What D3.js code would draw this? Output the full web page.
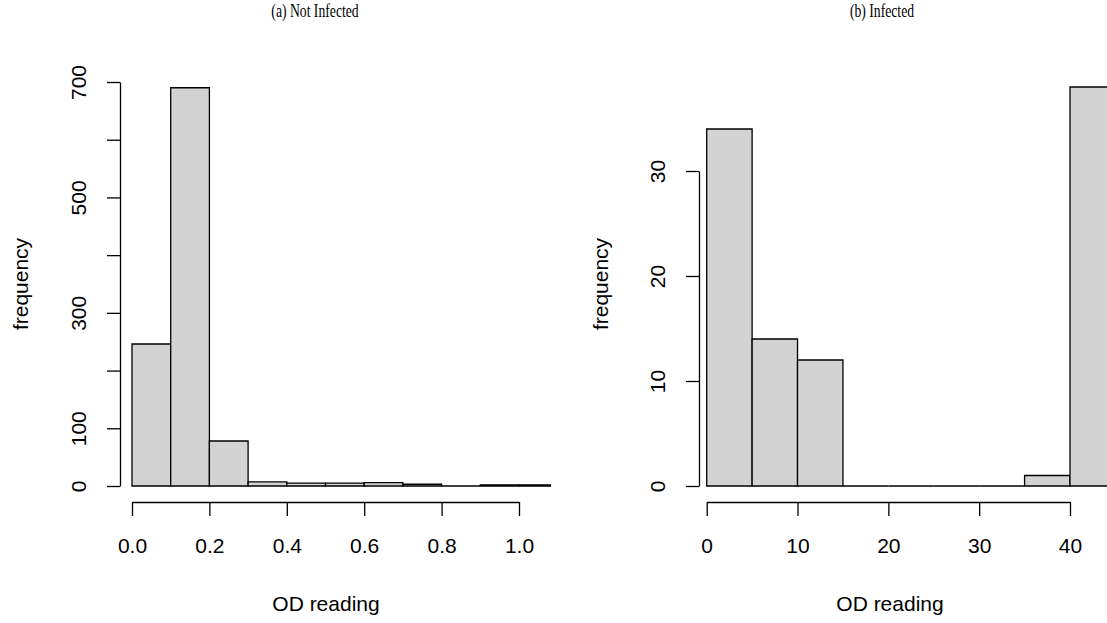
<!DOCTYPE html>
<html>
<head>
<meta charset="utf-8">
<script src="https://cdn.jsdelivr.net/npm/d3@7"></script>
<style>
  body { margin: 0; background: #fff; }
  .axis path, .axis line { stroke: #000; stroke-width: 1.3; }
  .axis text { font-family: "Liberation Sans", Arial, sans-serif; font-size: 21px; fill: #000; }
  .axis-title { font-family: "Liberation Sans", Arial, sans-serif; font-size: 21px; fill: #000; }
  .panel-title { font-family: "Liberation Serif", serif; font-size: 19px; fill: #000; }
  .bar { fill: #d3d3d3; stroke: #000; stroke-width: 1.3; }
</style>
</head>
<body>
<svg id="chart" width="1107" height="623"></svg>
<script>
// (a) not infected
const notInfectedBreaks = [0, 0.1, 0.2, 0.3, 0.4, 0.5, 0.6, 0.7, 0.8, 0.9, 1.0, 1.1];
const notInfectedCounts = [246, 690, 78, 7, 5, 5, 6, 3, 0, 2, 2];
const notInfectedXTicks = [0, 0.2, 0.4, 0.6, 0.8, 1.0];
const notInfectedYTicks = [0, 100, 200, 300, 400, 500, 600, 700];
const notInfectedYLabels = [0, 100, 300, 500, 700];

// (b) infected
const infectedBreaks = [0, 5, 10, 15, 20, 25, 30, 35, 40, 45];
const infectedCounts = [34, 14, 12, 0, 0, 0, 0, 1, 38];
const infectedXTicks = [0, 10, 20, 30, 40];
const infectedYTicks = [0, 10, 20, 30];

const svg = d3.select('#chart');
const baseY = 486;
const axisY = 502;

const panels = [
  {
    id: 'a',
    title: '(a) Not Infected',
    titleX: 315,
    breaks: notInfectedBreaks,
    counts: notInfectedCounts,
    x: d3.scaleLinear().domain([0, 1]).range([132, 519]),
    y: d3.scaleLinear().domain([0, 700]).range([baseY, 82]),
    xTicks: notInfectedXTicks,
    xFormat: d3.format('.1f'),
    yTicks: notInfectedYTicks,
    yLabels: notInfectedYLabels,
    axisX: 120,
    clip: [120, 551],
    xTitleX: 326,
    yTitleX: 28,
  },
  {
    id: 'b',
    title: '(b) Infected',
    titleX: 882,
    breaks: infectedBreaks,
    counts: infectedCounts,
    x: d3.scaleLinear().domain([0, 40]).range([706.7, 1070]),
    y: d3.scaleLinear().domain([0, 30]).range([baseY, 171]),
    xTicks: infectedXTicks,
    xFormat: d3.format('d'),
    yTicks: infectedYTicks,
    yLabels: infectedYTicks,
    axisX: 699,
    clip: [699, 1107],
    xTitleX: 890,
    yTitleX: 608,
  }
];

// rect outline as a path so empty bins still show as a line
const barPath = (p, d) => {
  const x0 = p.x(d.x0), x1 = p.x(d.x1), y0 = p.y(0), y1 = p.y(d.count);
  return `M${x0},${y0}H${x1}V${y1}H${x0}Z`;
};

panels.forEach(p => {
  const g = svg.append('g').attr('class', 'panel-' + p.id);

  g.append('clipPath')
    .attr('id', 'clip-' + p.id)
    .append('rect')
    .attr('x', p.clip[0])
    .attr('y', 0)
    .attr('width', p.clip[1] - p.clip[0])
    .attr('height', axisY);

  const bins = p.counts.map((c, i) => ({ x0: p.breaks[i], x1: p.breaks[i + 1], count: c }));

  g.append('g')
    .attr('clip-path', `url(#clip-${p.id})`)
    .selectAll('path')
    .data(bins)
    .enter()
    .append('path')
    .attr('class', 'bar')
    .attr('d', d => barPath(p, d));

  // x axis
  g.append('g')
    .attr('class', 'axis')
    .attr('transform', `translate(0,${axisY})`)
    .call(d3.axisBottom(p.x).tickValues(p.xTicks).tickFormat(p.xFormat)
      .tickSize(14).tickSizeOuter(0).tickPadding(22));

  // y axis, labels turned like R's las=0
  const yAxis = g.append('g')
    .attr('class', 'axis')
    .attr('transform', `translate(${p.axisX},0)`)
    .call(d3.axisLeft(p.y).tickValues(p.yTicks).tickSize(13).tickSizeOuter(0));

  yAxis.selectAll('.tick text')
    .text(d => p.yLabels.includes(d) ? d : '')
    .attr('x', null)
    .attr('dy', null)
    .attr('text-anchor', 'middle')
    .attr('transform', 'translate(-34,0) rotate(-90)');

  g.append('text')
    .attr('class', 'axis-title')
    .attr('text-anchor', 'middle')
    .attr('x', p.xTitleX)
    .attr('y', 611)
    .text('OD reading');

  g.append('text')
    .attr('class', 'axis-title')
    .attr('text-anchor', 'middle')
    .attr('transform', `translate(${p.yTitleX},284) rotate(-90)`)
    .text('frequency');

  // condensed serif look of the panel captions
  g.append('text')
    .attr('class', 'panel-title')
    .attr('text-anchor', 'middle')
    .attr('transform', `translate(${p.titleX},17) scale(0.72,1)`)
    .text(p.title);
});
</script>
</body>
</html>
